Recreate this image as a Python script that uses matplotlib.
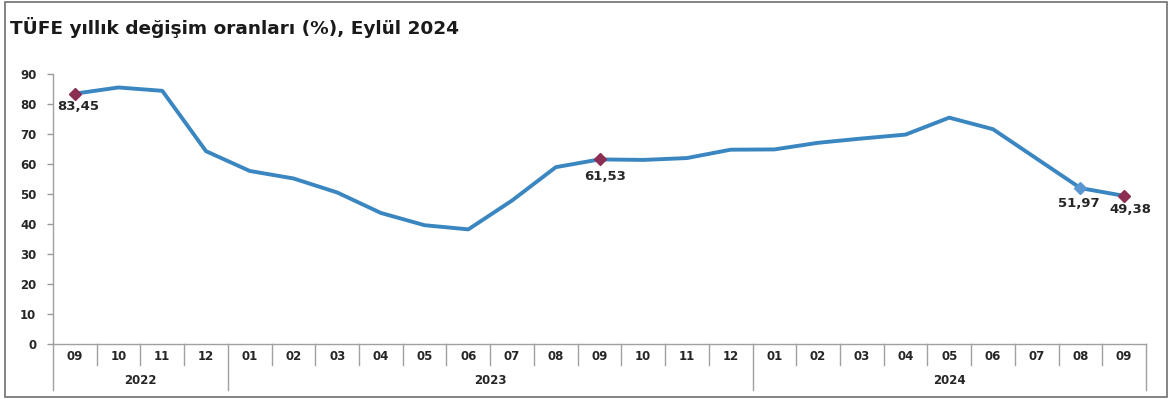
import matplotlib
matplotlib.use("Agg")
import matplotlib.pyplot as plt
from matplotlib.patches import Rectangle
import matplotlib.transforms as mtransforms

months = ["09", "10", "11", "12", "01", "02", "03", "04", "05", "06", "07", "08",
          "09", "10", "11", "12", "01", "02", "03", "04", "05", "06", "07", "08", "09"]
years = ["2022", "2023", "2024"]
year_spans = [(0, 4), (4, 16), (16, 25)]
values = [83.45, 85.51, 84.39, 64.27, 57.68, 55.18, 50.51, 43.68, 39.59, 38.21,
          47.83, 58.94, 61.53, 61.36, 61.98, 64.77, 64.86, 67.07, 68.50, 69.80,
          75.45, 71.60, 61.78, 51.97, 49.38]
labeled_idx = [0, 12, 23, 24]
label_texts = ["83,45", "61,53", "51,97", "49,38"]
yticks = [0, 10, 20, 30, 40, 50, 60, 70, 80, 90]

plt.rcParams['font.family'] = ['DejaVu Sans']

W, H = 1169, 399
fig = plt.figure(figsize=(W / 100, H / 100), dpi=100)
ax = fig.add_axes([53 / W, 1 - 344 / H, (1146 - 53) / W, (344 - 74) / H])

line_color = '#3A86C1'
x = list(range(len(values)))
ax.plot(x, values, color=line_color, lw=2.8, solid_joinstyle='round', zorder=2)

marker_colors = {0: '#8B2E52', 12: '#8B2E52', 23: '#5A96D2', 24: '#8B2E52'}
for i in labeled_idx:
    ax.plot(i, values[i], marker='D', ms=6, color=marker_colors[i], mec=marker_colors[i], zorder=3)

offsets = {0: (3, -13), 12: (6, -17), 23: (-2, -15), 24: (6, -14)}
for i, t in zip(labeled_idx, label_texts):
    dx, dy = offsets[i]
    ax.annotate(t, (i, values[i]), xytext=(dx, dy), textcoords='offset pixels',
                ha='center', va='center', fontsize=9.5, fontweight='bold', color='#262626')

ax.set_xlim(-0.5, len(values) - 0.5)
ax.set_ylim(0, 90)
ax.set_yticks(yticks)
ax.set_yticklabels([str(v) for v in yticks])
ax.tick_params(axis='y', direction='out', length=4, color='#999999', width=1,
               labelsize=8.5, labelcolor='#262626', pad=8)
for lab in ax.get_yticklabels():
    lab.set_fontweight('bold')

for s in ['top', 'right']:
    ax.spines[s].set_visible(False)
for s in ['left', 'bottom']:
    ax.spines[s].set_color('#A0A0A0')
    ax.spines[s].set_linewidth(1)

ax.set_xticks([])
trans = mtransforms.blended_transform_factory(ax.transData, ax.transAxes)
year_bounds = set(b for span in year_spans for b in span)
for b in range(len(values) + 1):
    xb = b - 0.5
    y0 = -0.17 if b in year_bounds else -0.078
    ax.plot([xb, xb], [0, y0], transform=trans, color='#A0A0A0', lw=1, clip_on=False)
for i, m in enumerate(months):
    ax.text(i, -0.046, m, transform=trans, ha='center', va='center',
            fontsize=8.5, fontweight='bold', color='#262626')
for yname, (a, b) in zip(years, year_spans):
    ax.text((a + b - 1) / 2, -0.137, yname, transform=trans, ha='center', va='center',
            fontsize=8.5, fontweight='bold', color='#262626')

fig.text(10 / W, 1 - 27 / H, "TÜFE yıllık değişim oranları (%), Eylül 2024",
         ha='left', va='center', fontsize=13.3, fontweight='bold', color='#1a1a1a')

fig.patches.append(Rectangle((5 / W, 2 / H), (1167 - 5) / W, (397 - 2) / H,
                             transform=fig.transFigure, fill=False,
                             edgecolor='#707070', lw=1.2))

fig.savefig('out.png', dpi=100)
